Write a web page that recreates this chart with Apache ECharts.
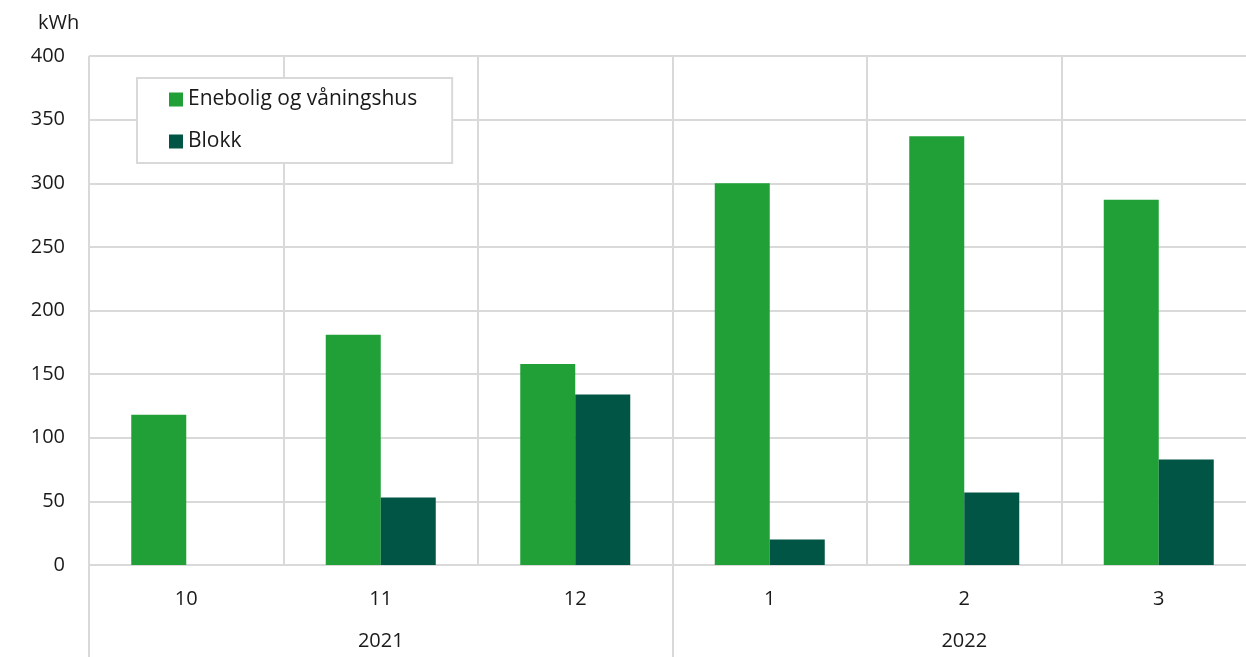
<!DOCTYPE html>
<html>
<head>
<meta charset="utf-8">
<script src="https://cdn.jsdelivr.net/npm/echarts@6/dist/echarts.min.js"></script>
<style>html,body{margin:0;padding:0;background:#fff;overflow:hidden;width:1246px;height:657px;}#c{width:1260px;height:657px;}</style>
</head>
<body>
<div id="c"></div>
<script>
var months = ['10', '11', '12', '1', '2', '3'];
var years = ['2021', '2022'];
var enebolig = [118, 181, 158, 300, 337, 287];
var blokk = [null, 53, 134, 20, 57, 83];
var yTicks = { min: 0, max: 400, interval: 50 };

var FONT = '"Open Sans", "Noto Sans", sans-serif';
var GRIDC = '#d9d9d9';
var chart = echarts.init(document.getElementById('c'));
chart.setOption({
  animation: false,
  textStyle: { fontFamily: FONT, color: '#1a1a1a' },
  title: { text: 'kWh', left: 33, top: 8, textStyle: { fontFamily: FONT, fontSize: 20, fontWeight: 'normal', color: '#1a1a1a' } },
  legend: {
    orient: 'vertical', left: 137, top: 78,
    backgroundColor: '#fff', borderColor: GRIDC, borderWidth: 2,
    padding: [11, 35, 11, 32], itemGap: 21, itemWidth: 14, itemHeight: 14, icon: 'rect',
    textStyle: { fontFamily: FONT, fontSize: 21, color: '#1a1a1a' },
    data: ['Enebolig og våningshus', 'Blokk']
  },
  grid: { left: 89, top: 56, width: 1167, height: 509 },
  xAxis: [{
    type: 'category', data: months, position: 'bottom',
    axisLine: { show: true, lineStyle: { color: GRIDC, width: 2 } },
    axisTick: { show: false },
    splitLine: { show: true, lineStyle: { color: GRIDC, width: 2 } },
    axisLabel: { fontFamily: FONT, fontSize: 20, color: '#1a1a1a', margin: 24 }
  }, {
    type: 'category', data: years, position: 'bottom',
    axisLine: { show: false },
    axisTick: { show: true, length: 95, lineStyle: { color: GRIDC, width: 2 } },
    splitLine: { show: false },
    axisLabel: { fontFamily: FONT, fontSize: 20, color: '#1a1a1a', margin: 66 }
  }],
  yAxis: {
    type: 'value', min: yTicks.min, max: yTicks.max, interval: yTicks.interval,
    axisLine: { show: false }, axisTick: { show: false },
    splitLine: { lineStyle: { color: GRIDC, width: 2 } },
    axisLabel: { fontFamily: FONT, fontSize: 20, color: '#1a1a1a', margin: 24 }
  },
  series: [{
    name: 'Enebolig og våningshus', type: 'bar', xAxisIndex: 0, data: enebolig,
    barWidth: 55, barGap: '0%', itemStyle: { color: '#21a038' }
  }, {
    name: 'Blokk', type: 'bar', xAxisIndex: 0, data: blokk,
    barWidth: 55, barGap: '0%', itemStyle: { color: '#005545' }
  }]
});
</script>
</body>
</html>
